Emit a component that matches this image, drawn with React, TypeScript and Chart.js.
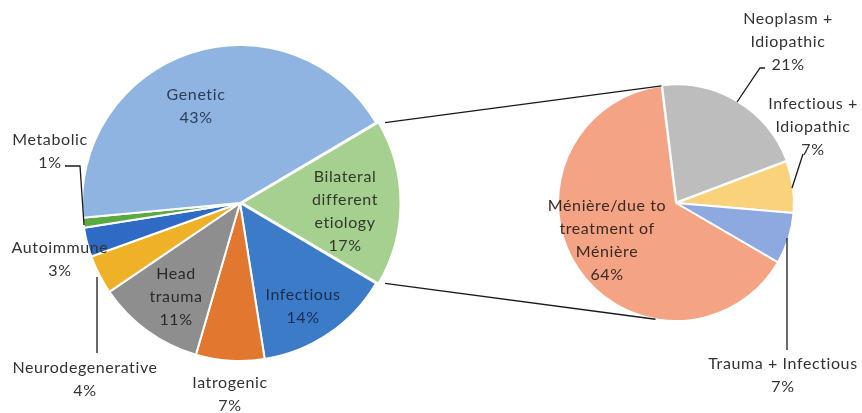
import React, { useEffect, useRef } from "react";
import { Chart, registerables } from "chart.js";

Chart.register(...registerables);

// ---- Data ----
const mainLabels = [
  "Bilateral different etiology",
  "Infectious",
  "Iatrogenic",
  "Head trauma",
  "Neurodegenerative",
  "Autoimmune",
  "Metabolic",
  "Genetic",
];
const mainValues = [17, 14, 7, 11, 4, 3, 1, 43];
const mainColors = ["#a6d08f", "#3c7bc8", "#e2772f", "#8e8e8e", "#eeb128", "#2f6bc4", "#5aa944", "#8fb4e1"];
const mainText = [
  ["Bilateral", "different", "etiology", "17%"],
  ["Infectious", "14%"],
  ["Iatrogenic", "7%"],
  ["Head", "trauma", "11%"],
  ["Neurodegenerative", "4%"],
  ["Autoimmune", "3%"],
  ["Metabolic", "1%"],
  ["Genetic", "43%"],
];

const subLabels = ["Neoplasm + Idiopathic", "Infectious + Idiopathic", "Trauma + Infectious", "Ménière/due to treatment of Ménière"];
const subValues = [21, 7, 7, 64];
const subColors = ["#bdbdbd", "#fbd27c", "#8ea8e0", "#f4a384"];
const subText = [
  ["Neoplasm +", "Idiopathic", "21%"],
  ["Infectious +", "Idiopathic", "7%"],
  ["Trauma + Infectious", "7%"],
  ["Ménière/due to", "treatment of", "Ménière", "64%"],
];

// ---- Layout (offsets relative to pie centre) ----
const mainLabelPos: [number, number][] = [
  [105, 8], [63, 103], [-10, 191], [-64, 94], [-155, 176], [-180, 56], [-190, -52], [-44, -97],
];
const mainLeaders: [number, number][][] = [
  [], [], [], [],
  [[-143, 74], [-143, 150]],
  [],
  [[-175, -37], [-160, -37], [-156, 22]],
  [],
];
const subLabelPos: [number, number][] = [
  [112, -161], [137, -76], [107, 172], [-69, 37],
];
const subLeaders: [number, number][][] = [
  [[89, -135], [84, -135], [61, -101]],
  [[127, -49], [116, -15]],
  [[111, 35], [111, 147]],
  [],
];

const FONT = "Lato, 'Open Sans', sans-serif";
const LINE_H = 23;

function drawLabels(chart: any, texts: string[][], pos: [number, number][], leaders: [number, number][][], colors: string[]) {
  const meta = chart.getDatasetMeta(0);
  const arc0 = meta.data[0] as any;
  const cx = arc0.x;
  const cy = arc0.y;
  const ctx = chart.ctx;
  ctx.save();
  ctx.strokeStyle = "#1a1a1a";
  ctx.lineWidth = 1.3;
  leaders.forEach((pts) => {
    if (!pts.length) return;
    ctx.beginPath();
    pts.forEach((p, i) => {
      if (i === 0) ctx.moveTo(cx + p[0], cy + p[1]);
      else ctx.lineTo(cx + p[0], cy + p[1]);
    });
    ctx.stroke();
  });
  ctx.font = `16px ${FONT}`;
  (ctx as any).letterSpacing = "0.6px";
  ctx.textAlign = "center";
  ctx.textBaseline = "middle";
  texts.forEach((lines, i) => {
    ctx.fillStyle = colors[i];
    const [dx, dy] = pos[i];
    const top = cy + dy - ((lines.length - 1) * LINE_H) / 2;
    lines.forEach((ln, j) => ctx.fillText(ln, cx + dx, top + j * LINE_H));
  });
  ctx.restore();
}

const mainTextColors = ["#2f3a2a", "#1c2c4c", "#333333", "#2a2a2a", "#333333", "#333333", "#333333", "#2c3c58"];
const subTextColors = ["#333333", "#333333", "#333333", "#3a2a22"];

export default function App() {
  const leftRef = useRef<HTMLCanvasElement>(null);
  const rightRef = useRef<HTMLCanvasElement>(null);

  useEffect(() => {
    document.body.style.margin = "0";
    const left = new Chart(leftRef.current!, {
      type: "pie",
      data: {
        labels: mainLabels,
        datasets: [
          {
            data: mainValues,
            backgroundColor: mainColors,
            borderColor: "#ffffff",
            borderWidth: 2,
            offset: [9, 0, 0, 0, 0, 0, 0, 0],
          },
        ],
      },
      options: {
        animation: false,
        responsive: false,
        rotation: 59.4,
        radius: 158,
        layout: { padding: { left: 0, right: 382, top: 0, bottom: 7 } },
        plugins: { legend: { display: false }, tooltip: { enabled: false } },
      } as any,
      plugins: [
        {
          id: "mainLabels",
          afterDatasetsDraw(chart: any) {
            drawLabels(chart, mainText, mainLabelPos, mainLeaders, mainTextColors);
          },
        },
      ],
    });

    const right = new Chart(rightRef.current!, {
      type: "pie",
      data: {
        labels: subLabels,
        datasets: [
          {
            data: subValues,
            backgroundColor: subColors,
            borderColor: "#ffffff",
            borderWidth: 2,
            offset: [3, 0, 0, 0],
          },
        ],
      },
      options: {
        animation: false,
        responsive: false,
        rotation: -7,
        radius: 118,
        layout: { padding: { left: 526, right: 36, top: 53, bottom: 60 } },
        plugins: { legend: { display: false }, tooltip: { enabled: false } },
      } as any,
      plugins: [
        {
          id: "subLabels",
          afterDatasetsDraw(chart: any) {
            // connector lines from exploded slice to secondary pie
            const la = left.getDatasetMeta(0).data[0] as any;
            const off = 9;
            const mid = (la.startAngle + la.endAngle) / 2;
            const ox = la.x + off * Math.cos(mid);
            const oy = la.y + off * Math.sin(mid);
            const R = la.outerRadius;
            const p1 = [ox + R * Math.cos(la.startAngle), oy + R * Math.sin(la.startAngle)];
            const p2 = [ox + R * Math.cos(la.endAngle), oy + R * Math.sin(la.endAngle)];
            const ra = chart.getDatasetMeta(0).data[0] as any;
            const r = ra.outerRadius;
            const a1 = ra.startAngle;
            const a2 = (100 * Math.PI) / 180;
            const q1 = [ra.x + r * Math.cos(a1), ra.y + r * Math.sin(a1)];
            const q2 = [ra.x + r * Math.cos(a2), ra.y + r * Math.sin(a2)];
            const ctx = chart.ctx;
            ctx.save();
            ctx.strokeStyle = "#1a1a1a";
            ctx.lineWidth = 1.4;
            ctx.beginPath();
            ctx.moveTo(p1[0], p1[1]);
            ctx.lineTo(q1[0], q1[1]);
            ctx.moveTo(p2[0], p2[1]);
            ctx.lineTo(q2[0], q2[1]);
            ctx.stroke();
            ctx.restore();
            drawLabels(chart, subText, subLabelPos, subLeaders, subTextColors);
          },
        },
      ],
    });

    return () => {
      right.destroy();
      left.destroy();
    };
  }, []);

  return (
    <div style={{ position: "relative", width: 862, height: 413, background: "#ffffff" }}>
      <canvas ref={leftRef} width={862} height={413} style={{ position: "absolute", left: 0, top: 0, width: 862, height: 413 }} />
      <canvas ref={rightRef} width={862} height={413} style={{ position: "absolute", left: 0, top: 0, width: 862, height: 413 }} />
    </div>
  );
}
